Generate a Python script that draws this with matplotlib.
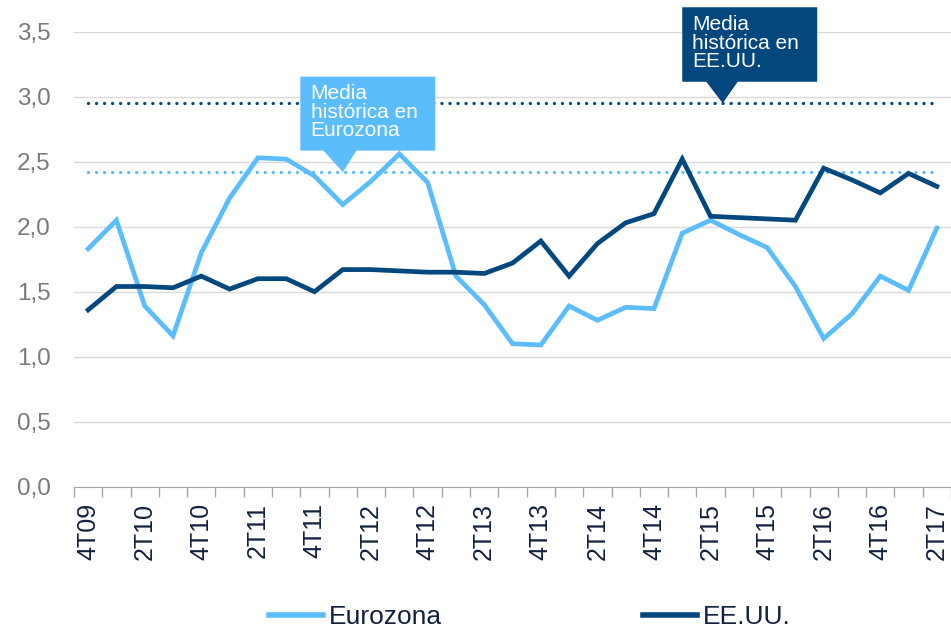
import matplotlib
matplotlib.use("Agg")
import matplotlib.pyplot as plt
import numpy as np

plt.rcParams['font.family'] = ['Liberation Sans', 'DejaVu Sans']

# trimestres 4T09 .. 2T17
quarters = ['4T09',
            '1T10', '2T10', '3T10', '4T10',
            '1T11', '2T11', '3T11', '4T11',
            '1T12', '2T12', '3T12', '4T12',
            '1T13', '2T13', '3T13', '4T13',
            '1T14', '2T14', '3T14', '4T14',
            '1T15', '2T15', '3T15', '4T15',
            '1T16', '2T16', '3T16', '4T16',
            '1T17', '2T17']

eurozona = [1.83, 2.05, 1.39, 1.16, 1.80, 2.22, 2.53, 2.52, 2.39, 2.17,
            2.35, 2.56, 2.34, 1.62, 1.40, 1.10, 1.09, 1.39, 1.28, 1.38,
            1.37, 1.95, 2.05, 1.94, 1.84, 1.54, 1.14, 1.33, 1.62, 1.51,
            1.99]

eeuu = [1.36, 1.54, 1.54, 1.53, 1.62, 1.52, 1.60, 1.60, 1.50, 1.67,
        1.67, 1.66, 1.65, 1.65, 1.64, 1.72, 1.89, 1.62, 1.87, 2.03,
        2.10, 2.52, 2.08, 2.07, 2.06, 2.05, 2.45, 2.36, 2.26, 2.41,
        2.31]

media_eurozona = 2.42
media_eeuu = 2.95

light = '#5bbdfc'
dark = '#03477f'
navy_txt = '#13213f'
grey_txt = '#7a7a7a'

x = np.arange(len(quarters))

fig = plt.figure(figsize=(9.51, 6.29), dpi=100)
ax = fig.add_axes([74 / 951, 1 - 486.7 / 629, (951 - 74) / 951, (486.7 - 31.7) / 629])

ax.set_ylim(0, 3.5)
ax.set_xlim(-0.5, 30.3)
ax.set_yticks(np.arange(0, 3.51, 0.5))
ax.set_yticklabels([f'{v:.1f}'.replace('.', ',') for v in np.arange(0, 3.51, 0.5)],
                   fontsize=17.5, color=grey_txt)
ax.yaxis.grid(True, color='#d9d9d9', lw=1)
ax.set_axisbelow(True)
ax.tick_params(axis='y', length=0, pad=17)

ax.set_xticks(x[::2])
ax.set_xticklabels(quarters[::2], rotation=90, fontsize=18, color=navy_txt)
ax.set_xticks(np.arange(-0.5, len(quarters), 1), minor=True)
ax.tick_params(axis='x', which='major', length=0, pad=12)
ax.tick_params(axis='x', which='minor', length=7, color='#a6a6a6', width=1)

for s in ['top', 'right', 'left']:
    ax.spines[s].set_visible(False)
ax.spines['bottom'].set_color('#a6a6a6')

# medias historicas
ax.plot([x[0], x[-1]], [media_eeuu, media_eeuu], color=dark, lw=2.4,
        linestyle=(0, (0.01, 2.4)), dash_capstyle='round')
ax.plot([x[0], x[-1]], [media_eurozona, media_eurozona], color=light, lw=2.4,
        linestyle=(0, (0.01, 2.4)), dash_capstyle='round')

ax.plot(x, eurozona, color=light, lw=3.4, label='Eurozona', solid_joinstyle='miter')
ax.plot(x, eeuu, color=dark, lw=3.4, label='EE.UU.', solid_joinstyle='miter')

# globos
ax.fill([7.5, 12.27, 12.27, 9.48, 9.0, 8.32, 7.5], [3.154, 3.154, 2.585, 2.585, media_eurozona, 2.585, 2.585],
        color=light, zorder=5, clip_on=False, lw=0)
ax.text(7.86, 3.095, 'Media\nhistórica en\nEurozona', color='white', fontsize=15,
        va='top', ha='left', linespacing=0.95, zorder=6)

ax.fill([21.0, 25.77, 25.77, 22.96, 22.43, 21.85, 21.0], [3.688, 3.688, 3.115, 3.115, media_eeuu, 3.115, 3.115],
        color=dark, zorder=5, clip_on=False, lw=0)
ax.text(21.36, 3.625, 'Media\nhistórica en\nEE.UU.', color='white', fontsize=15,
        va='top', ha='left', linespacing=0.95, zorder=6, clip_on=False)

leg = fig.legend(loc='center', bbox_to_anchor=(530 / 951, 1 - 617 / 629), ncol=2,
                 frameon=False, fontsize=19, handlelength=2.05, handletextpad=0.22,
                 columnspacing=7.6)
for t in leg.get_texts():
    t.set_color(navy_txt)
for h in leg.get_lines():
    h.set_linewidth(4)

fig.savefig('out.png', dpi=100)
